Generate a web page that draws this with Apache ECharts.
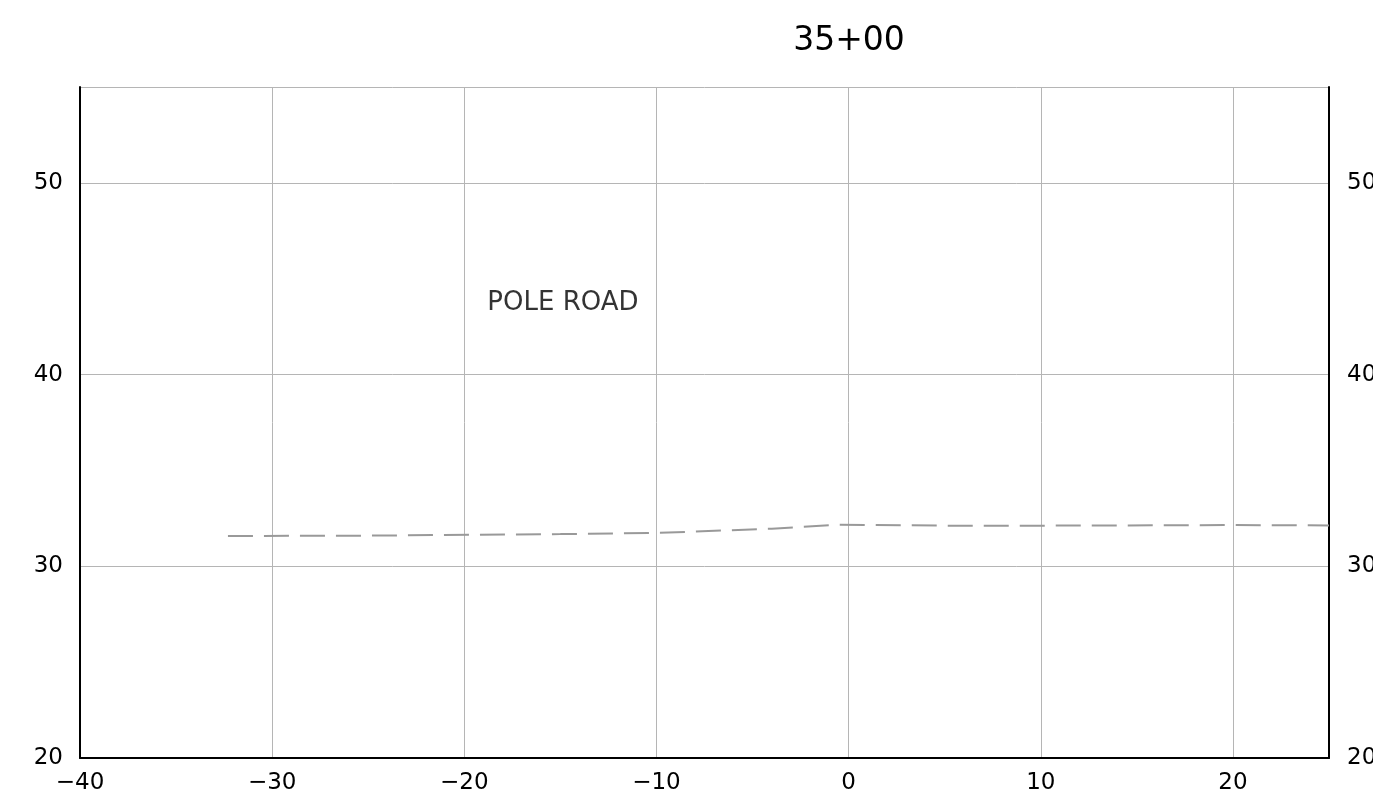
<!DOCTYPE html>
<html>
<head>
<meta charset="utf-8">
<script src="https://cdn.jsdelivr.net/npm/echarts@6/dist/echarts.min.js"></script>
<style>
html,body{margin:0;padding:0;background:#fff;overflow:hidden;}
#chart{width:1373px;height:806px;}
</style>
</head>
<body>
<div id="chart"></div>
<script>
const titleText = "35+00";
const xTicks = { min: -40, max: 25, interval: 10 };
const yTicks = { min: 20, max: 55, interval: 10 };
const groundX = [-32.3, -25, -15, -10, -4, -0.5, 5, 10, 20, 25];
const groundY = [31.58, 31.6, 31.68, 31.74, 31.96, 32.17, 32.12, 32.12, 32.15, 32.13];
const labelText = "POLE ROAD";
const labelPos = [-18.8, 43.7];

const FONT = "DejaVu Sans";
const fmt = v => String(v).replace('-', '\u2212');

const chart = echarts.init(document.getElementById('chart'), null, {renderer: 'canvas'});
const yCommon = {
  type: 'value', min: yTicks.min, max: yTicks.max, interval: yTicks.interval,
  axisLine: {show: true, onZero: false, lineStyle: {color: '#000', width: 2}},
  axisTick: {show: false},
  splitLine: {show: false},
  axisLabel: {color: '#000', fontFamily: FONT, fontSize: 23, formatter: v => v === 55 ? '' : fmt(v), margin: 17}
};
chart.setOption({
  animation: false,
  backgroundColor: '#fff',
  title: {text: titleText, left: 844, top: 20, textAlign: 'center',
    textStyle: {fontFamily: FONT, fontSize: 33, fontWeight: 'normal', color: '#000'}},
  grid: {left: 80, right: 44, top: 87, bottom: 48, containLabel: false, outerBoundsMode: 'none'},
  xAxis: {
    type: 'value', min: xTicks.min, max: xTicks.max, interval: xTicks.interval,
    axisLine: {show: true, onZero: false, lineStyle: {color: '#000', width: 2}},
    axisTick: {show: false},
    splitLine: {show: true, lineStyle: {color: '#b5b5b5', width: 1}},
    axisLabel: {color: '#000', fontFamily: FONT, fontSize: 23, formatter: v => v === 25 ? '' : fmt(v), margin: 14}
  },
  yAxis: [
    Object.assign({}, yCommon, {position: 'left', splitLine: {show: true, lineStyle: {color: '#b5b5b5', width: 1}}}),
    Object.assign({}, yCommon, {position: 'right', axisLabel: Object.assign({}, yCommon.axisLabel, {margin: 18})})
  ],
  series: [
    {
      type: 'line', data: groundX.map((x, i) => [x, groundY[i]]),
      showSymbol: false, symbol: 'none',
      lineStyle: {color: '#999', width: 2, type: [25, 11]}
    },
    {
      type: 'scatter', data: [labelPos], symbolSize: 0,
      label: {show: true, position: 'right', distance: 0, formatter: labelText,
        fontFamily: FONT, fontSize: 26, color: '#000'}
    }
  ]
});
</script>
</body>
</html>
